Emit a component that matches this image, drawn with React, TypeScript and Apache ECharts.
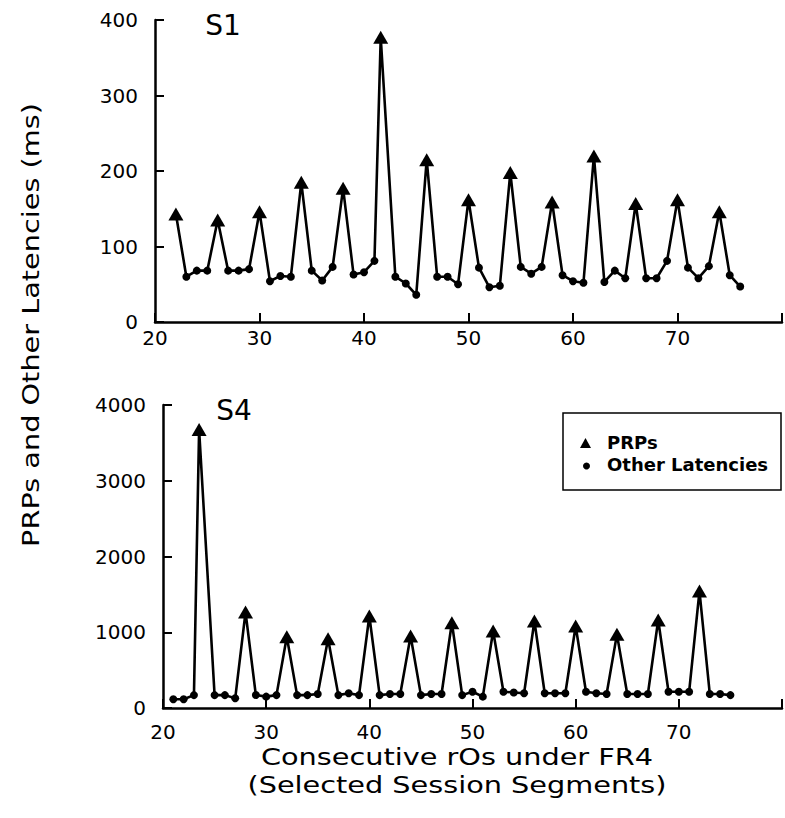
import React, { useEffect, useRef } from "react";
import * as echarts from "echarts";

// Panel S1 (ms)
const s1PrpX = [22, 26, 30, 34, 38, 41.6, 46, 50, 54, 58, 62, 66, 70, 74];
const s1PrpY = [143, 135, 146, 185, 177, 377, 215, 162, 198, 159, 220, 157, 162, 146];
const s1OtherX = [23, 24, 25, 27, 28, 29, 31, 32, 33, 35, 36, 37, 39, 40, 41, 43, 44, 45, 47, 48, 49, 51, 52, 53, 55, 56, 57, 59, 60, 61, 63, 64, 65, 67, 68, 69, 71, 72, 73, 75, 76];
const s1OtherY = [60, 68, 68, 68, 68, 70, 54, 61, 60, 68, 55, 73, 63, 66, 81, 60, 51, 36, 60, 60, 50, 72, 46, 48, 73, 64, 73, 62, 54, 52, 53, 68, 58, 58, 58, 81, 72, 58, 74, 62, 47];

// Panel S4 (ms)
const s4PrpX = [23.5, 28, 32, 36, 40, 44, 48, 52, 56, 60, 64, 68, 72];
const s4PrpY = [3677, 1266, 940, 914, 1214, 950, 1125, 1016, 1148, 1082, 972, 1161, 1544];
const s4OtherX = [21, 22, 23, 25, 26, 27, 29, 30, 31, 33, 34, 35, 37, 38, 39, 41, 42, 43, 45, 46, 47, 49, 50, 51, 53, 54, 55, 57, 58, 59, 61, 62, 63, 65, 66, 67, 69, 70, 71, 73, 74, 75];
const s4OtherY = [115, 115, 170, 170, 170, 128, 171, 150, 170, 170, 170, 185, 170, 194, 170, 170, 185, 185, 170, 185, 185, 170, 215, 150, 215, 205, 195, 195, 195, 195, 215, 195, 185, 185, 185, 185, 215, 215, 215, 185, 185, 170];

const s1YTicks = [0, 400, 100];
const s4YTicks = [0, 4000, 1000];
const xRange = [20, 80, 10];

const panelLabels = ["S1", "S4"];
const legendNames = ["PRPs", "Other Latencies"];
const yTitle = "PRPs and Other Latencies (ms)";
const xTitle1 = "Consecutive rOs under FR4";
const xTitle2 = "(Selected Session Segments)";

const FONT = "DejaVu Sans";

function pairs(xs: number[], ys: number[]) {
  return xs.map((x, i) => [x, ys[i]]);
}
function merged(ax: number[], ay: number[], bx: number[], by: number[]) {
  return pairs(ax, ay).concat(pairs(bx, by)).sort((a, b) => a[0] - b[0]);
}

export default function App() {
  const ref = useRef<HTMLDivElement>(null);
  useEffect(() => {
    if (!ref.current) return;
    const chart = echarts.init(ref.current, undefined, { renderer: "svg" });
    const axisLine = { show: true, lineStyle: { color: "#000", width: 2.5 } };
    const axisTick = { show: true, inside: true, length: 9, lineStyle: { color: "#000", width: 2 } };
    const xAxisBase = (gi: number, margin: number) => ({
      type: "value",
      gridIndex: gi,
      min: xRange[0],
      max: xRange[1],
      interval: xRange[2],
      axisLine,
      axisTick,
      splitLine: { show: false },
      axisLabel: {
        color: "#000",
        fontSize: 20,
        fontFamily: FONT,
        margin,
        formatter: (v: number) => (v >= 80 ? "" : String(v)),
      },
    });
    const yAxisBase = (gi: number, t: number[], margin: number) => ({
      type: "value",
      gridIndex: gi,
      min: t[0],
      max: t[1],
      interval: t[2],
      axisLine,
      axisTick,
      splitLine: { show: false },
      axisLabel: {
        color: "#000",
        fontSize: 20,
        fontFamily: FONT,
        margin,
        formatter: (v: number) => String(v),
      },
    });
    const lineS = (gi: number, data: number[][]) => ({
      type: "line",
      xAxisIndex: gi,
      yAxisIndex: gi,
      data,
      showSymbol: false,
      symbol: "none",
      lineStyle: { color: "#000", width: 2.6 },
      z: 2,
    });
    const scat = (gi: number, name: string, data: number[][], symbol: string, size: any) => ({
      type: "scatter",
      name,
      xAxisIndex: gi,
      yAxisIndex: gi,
      data,
      symbol,
      symbolSize: size,
      itemStyle: { color: "#000", opacity: 1 },
      z: 3,
    });
    const textStyle = (text: string, size: number, weight = "normal") => ({
      text,
      fill: "#000",
      font: `${weight} ${size}px ${FONT}`,
      align: "center",
      verticalAlign: "middle",
    });
    chart.setOption({
      animation: false,
      backgroundColor: "#fff",
      grid: [
        { left: 155, top: 20, right: -42, height: 302 },
        { left: 163, top: 405, right: -50, height: 303 },
      ],
      xAxis: [xAxisBase(0, 6), xAxisBase(1, 14)],
      yAxis: [yAxisBase(0, s1YTicks, 17), yAxisBase(1, s4YTicks, 17)],
      series: [
        lineS(0, merged(s1PrpX, s1PrpY, s1OtherX, s1OtherY)),
        scat(0, legendNames[0], pairs(s1PrpX, s1PrpY), "triangle", [15, 13]),
        scat(0, legendNames[1], pairs(s1OtherX, s1OtherY), "circle", 8),
        lineS(1, merged(s4PrpX, s4PrpY, s4OtherX, s4OtherY)),
        scat(1, legendNames[0], pairs(s4PrpX, s4PrpY), "triangle", [15, 13]),
        scat(1, legendNames[1], pairs(s4OtherX, s4OtherY), "circle", 8),
      ],
      graphic: [
        { type: "text", x: 223, y: 25, style: textStyle(panelLabels[0], 28) },
        { type: "text", x: 234, y: 410, style: textStyle(panelLabels[1], 28) },
        {
          type: "text",
          x: 31,
          y: 325,
          rotation: Math.PI / 2,
          scaleX: 1.25,
          style: textStyle(yTitle, 23),
        },
        { type: "text", x: 457, y: 757, scaleX: 1.25, style: textStyle(xTitle1, 23) },
        { type: "text", x: 457, y: 785, scaleX: 1.25, style: textStyle(xTitle2, 23) },
        {
          type: "rect",
          shape: { x: 563, y: 413, width: 218, height: 77 },
          style: { fill: "none", stroke: "#000", lineWidth: 1.5 },
        },
        {
          type: "polygon",
          shape: { points: [[585.5, 438], [591, 448], [580, 448]] },
          style: { fill: "#000" },
        },
        { type: "circle", shape: { cx: 586.5, cy: 466, r: 3.5 }, style: { fill: "#000" } },
        {
          type: "text",
          x: 607,
          y: 442,
          style: { ...textStyle(legendNames[0], 18, "bold"), align: "left" },
        },
        {
          type: "text",
          x: 607,
          y: 464,
          style: { ...textStyle(legendNames[1], 18, "bold"), align: "left" },
        },
      ],
    });
    return () => chart.dispose();
  }, []);
  return (
    <div
      ref={ref}
      style={{ position: "absolute", left: 0, top: 0, width: 785, height: 818, background: "#fff" }}
    />
  );
}
